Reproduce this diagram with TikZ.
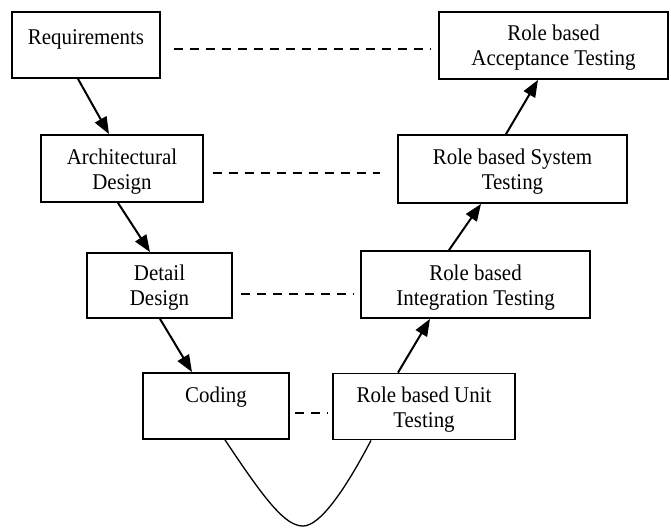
\documentclass[tikz,border=0pt]{standalone}
\usepackage{fontspec}
\setmainfont{Liberation Serif}[FakeStretch=0.93]
\usetikzlibrary{arrows.meta,calc}
\begin{document}
\begin{tikzpicture}[x=1pt,y=-1pt,
  box/.style={draw, line width=1.8pt, inner sep=0pt},
  txt/.style={inner sep=0pt, align=center, font=\fontsize{22.5}{25}\selectfont},
  flow/.style={line width=2pt, -{Triangle[length=17pt,width=13pt]}},
  link/.style={line width=1.8pt, dash pattern=on 9pt off 7pt},
  vcurve/.style={line width=1.3pt}]
\useasboundingbox (0,0) rectangle (671,527);
% left branch
\node[box, minimum width=148pt, minimum height=66pt] (req) at (86,45) {};
\node[txt] (reqtxt) at (86,39) {Requirements};
\node[box, minimum width=162pt, minimum height=67pt] (arch) at (122,168.5) {};
\node[txt] (archtxt) at ($(arch.center)+(0,3)$) {Architectural\\Design};
\node[box, minimum width=145pt, minimum height=65pt] (det) at (159.5,285.5) {};
\node[txt] (dettxt) at ($(det.center)+(0,2)$) {Detail\\Design};
\node[box, minimum width=146pt, minimum height=66pt] (cod) at (216,406) {};
\node[txt] (codtxt) at (216,397) {Coding};
% right branch
\node[box, minimum width=229pt, minimum height=67pt] (acc) at (553.5,45.5) {};
\node[txt] (acctxt) at ($(acc.center)+(0,2)$) {Role based\\Acceptance Testing};
\node[box, minimum width=229pt, minimum height=68pt] (sys) at (512.5,169) {};
\node[txt] (systxt) at ($(sys.center)+(0,3)$) {Role based System\\Testing};
\node[box, minimum width=229pt, minimum height=67pt] (int) at (475.5,284.5) {};
\node[txt] (inttxt) at ($(int.center)+(0,3)$) {Role based\\Integration Testing};
\node[box, minimum width=182pt, minimum height=66pt] (unit) at (424,406.5) {};
\node[txt] (unittxt) at ($(unit.center)+(0,3)$) {Role based Unit\\Testing};
% flow arrows
\draw[flow] ([xshift=-8pt]req.south) -- ([xshift=-13pt]arch.north);
\draw[flow] ([xshift=-4pt]arch.south) -- ([xshift=-9.5pt]det.north);
\draw[flow] ([xshift=0.5pt]det.south) -- ([xshift=-24pt]cod.north);
\draw[flow] ([xshift=-26pt]unit.north) -- ([xshift=-45.5pt]int.south);
\draw[flow] ([xshift=-26.5pt]int.north) -- ([xshift=-31.5pt]sys.south);
\draw[flow] ([xshift=-6.5pt]sys.north) -- ([xshift=-15.5pt]acc.south);
% dashed correspondences
\coordinate (d1a) at ($(req.east)+(13,4)$);
\coordinate (d1b) at ($(acc.west)+(-7,3.5)$);
\coordinate (d2a) at ($(arch.east)+(9,4.5)$);
\coordinate (d2b) at ($(sys.west)+(-17,4)$);
\coordinate (d3a) at ($(det.east)+(8,8.5)$);
\coordinate (d3b) at ($(int.west)+(-7,9.5)$);
\coordinate (d4a) at ($(cod.east)+(5,7)$);
\coordinate (d4b) at ($(unit.west)+(-5,6.5)$);
\draw[link] (d1a) -- (d1b);
\draw[link] (d2a) -- (d2b);
\draw[link] (d3a) -- (d3b);
\draw[link] (d4a) -- (d4b);
% bottom curve
\coordinate (c1) at ([xshift=9pt]cod.south);
\coordinate (c2) at ([xshift=-53pt]unit.south);
\coordinate (cbot) at (303,526);
\draw[vcurve] (c1) .. controls (265,500) and (285,526) .. (cbot)
  .. controls (320,526) and (345,490) .. (c2);
\end{tikzpicture}
\end{document}
